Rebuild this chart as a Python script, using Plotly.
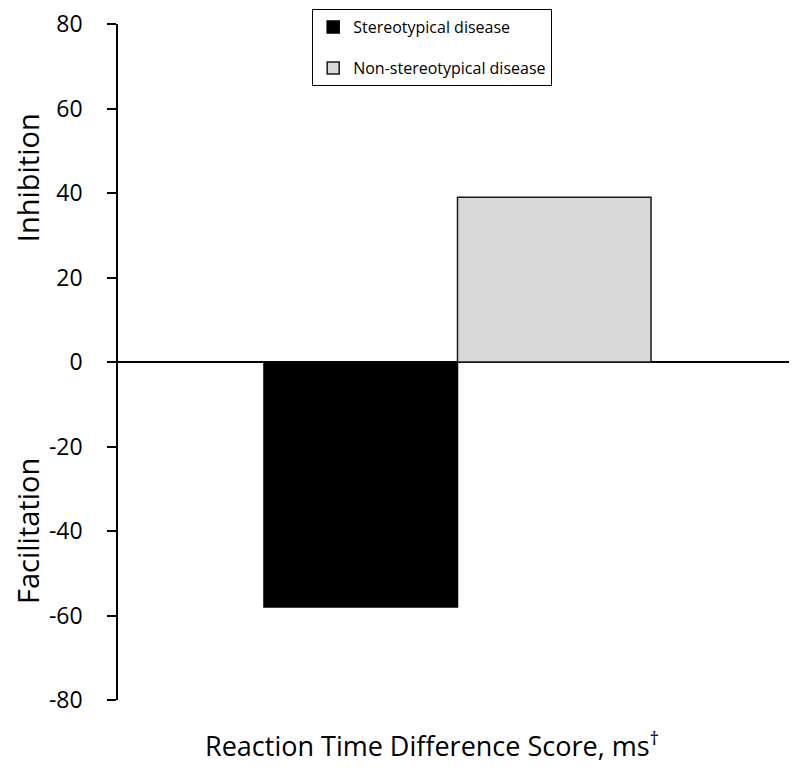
import plotly.graph_objects as go

categories = [""]
series_names = ["Stereotypical disease", "Non-stereotypical disease"]
stereotypical = [-58]
non_stereotypical = [39]
y_ticks = [-80, -60, -40, -20, 0, 20, 40, 60, 80]
y_tick_labels = [str(v) for v in y_ticks]
x_title = "Reaction Time Difference Score, ms<sup>†</sup>"
y_title_top = "Inhibition"
y_title_bottom = "Facilitation"

FONT = "Open Sans"

fig = go.Figure()
fig.add_trace(go.Bar(
    x=categories, y=stereotypical, name=series_names[0],
    marker=dict(color="#000000", line=dict(color="#000000", width=1.5)),
    legendgroup="a",
))
fig.add_trace(go.Bar(
    x=categories, y=non_stereotypical, name=series_names[1],
    marker=dict(color="#d9d9d9", line=dict(color="#1a1a1a", width=1.5)),
    legendgroup="b",
))

fig.update_layout(
    width=789, height=762,
    margin=dict(l=110, r=0, t=16, b=70),
    plot_bgcolor="white", paper_bgcolor="white",
    barmode="group", bargap=0.43, bargroupgap=0,
    font=dict(family=FONT, color="black"),
    showlegend=True,
    legend=dict(
        x=0.2857, y=1.0222, xanchor="left", yanchor="top",
        bordercolor="black", borderwidth=1.2, bgcolor="white",
        font=dict(size=16, family=FONT), tracegroupgap=17,
        itemwidth=30,
    ),
    xaxis=dict(showline=False, showticklabels=False, ticks="", automargin=False),
    yaxis=dict(range=[-80, 80], tickvals=y_ticks, ticktext=y_tick_labels,
               ticks="outside", ticklen=9,
               tickwidth=1.5, tickcolor="black", showline=True, linecolor="black",
               linewidth=1.5, showgrid=False, zeroline=True, zerolinecolor="black",
               zerolinewidth=1.5, tickfont=dict(size=23, family=FONT),
               ticklabelstandoff=20, automargin=False, ticklabeloverflow="allow"),
)

fig.add_annotation(text=y_title_top, xref="paper", yref="y", x=-0.134, y=43.5,
                   xanchor="center", yanchor="middle",
                   textangle=-90, showarrow=False, font=dict(size=29, family=FONT))
fig.add_annotation(text=y_title_bottom, xref="paper", yref="y", x=-0.134, y=-40,
                   xanchor="center", yanchor="middle",
                   textangle=-90, showarrow=False, font=dict(size=29, family=FONT))
fig.add_annotation(text=x_title, xref="paper", yref="paper", x=0.4625, y=-0.066,
                   xanchor="center", yanchor="middle", showarrow=False,
                   font=dict(size=27, family=FONT))

fig.write_html("out.html")
